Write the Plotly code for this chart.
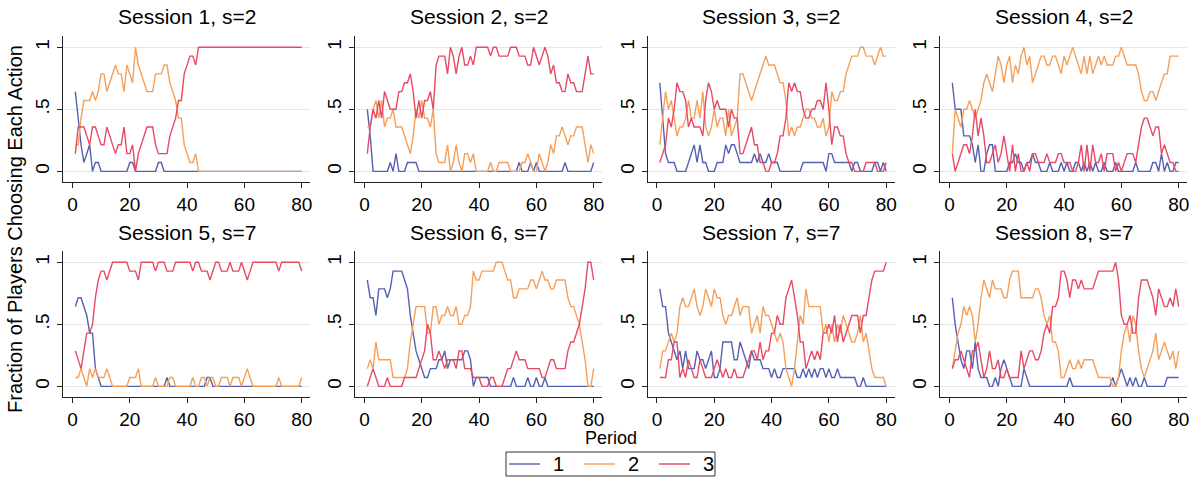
import plotly.graph_objects as go

# ---------------- data (number of the 14 players choosing each action) ----------------
N_PLAYERS = 14
periods = list(range(1, 81))
session_titles = ["Session 1, s=2", "Session 2, s=2", "Session 3, s=2", "Session 4, s=2",
                  "Session 5, s=7", "Session 6, s=7", "Session 7, s=7", "Session 8, s=7"]
action_names = ["1", "2", "3"]
x_ticks = [0, 20, 40, 60, 80]
y_ticks = [0, 0.5, 1]
y_ticklabels = ["0", ".5", "1"]

s1_a1 = [9,6,3,1,2,3,0,1,1,0, 0,0,0,0,0,0,0,0,0,1, 1,0,0,0,0,0,0,0,0,1, 1,0,0,0,0,0,0,0,0,0,
         0,0,0,0,0,0,0,0,0,0, 0,0,0,0,0,0,0,0,0,0, 0,0,0,0,0,0,0,0,0,0, 0,0,0,0,0,0,0,0,0,0]
s1_a2 = [3,3,6,8,8,8,9,8,9,11, 11,9,10,11,12,11,11,9,12,11, 10,14,12,11,10,9,9,9,11,11, 11,12,12,10,9,8,6,6,3,2,
         1,1,2,0,0,0,0,0,0,0, 0,0,0,0,0,0,0,0,0,0, 0,0,0,0,0,0,0,0,0,0, 0,0,0,0,0,0,0,0,0,0]
s1_a3 = [2,5,5,5,4,3,5,5,4,3, 3,5,4,3,2,3,3,5,2,2, 3,0,2,3,4,5,5,5,3,2, 2,2,2,4,5,6,8,8,11,12,
         13,13,12,14,14,14,14,14,14,14, 14,14,14,14,14,14,14,14,14,14, 14,14,14,14,14,14,14,14,14,14, 14,14,14,14,14,14,14,14,14,14]

s2_a1 = [7,4,0,0,0,0,0,0,1,0, 2,0,0,0,1,1,1,1,0,0, 0,0,0,0,0,0,0,0,0,0, 0,0,0,0,0,0,0,0,0,0,
         0,0,0,0,0,0,0,0,0,0, 0,0,0,1,0,0,0,1,0,1, 0,0,0,0,0,0,0,0,0,1, 0,0,0,0,0,0,0,0,0,1]
s2_a2 = [5,5,7,8,6,8,5,6,6,7, 5,5,5,4,3,2,4,7,6,8, 6,6,5,7,2,1,1,1,3,0, 1,3,1,0,2,2,1,2,0,0,
         0,0,0,1,0,0,1,1,1,1, 0,0,0,0,1,1,2,1,0,0, 2,1,0,1,3,2,4,4,5,4, 3,4,4,5,5,5,3,1,3,2]
s2_a3 = [2,5,7,6,8,6,9,8,7,7, 7,9,9,10,10,11,9,6,8,6, 8,8,9,7,12,13,13,13,11,14, 13,11,13,14,12,12,13,12,14,14,
         14,14,14,13,14,14,13,13,13,13, 14,14,14,13,13,13,12,12,14,13, 12,13,14,13,11,12,10,10,9,9, 11,10,10,9,9,9,11,13,11,11]

s3_a1 = [10,6,2,1,1,1,0,0,0,0, 1,2,3,1,3,1,1,0,0,0, 1,1,1,3,2,3,3,2,1,1, 1,1,1,2,1,2,1,1,2,1,
         1,1,0,0,0,0,0,0,0,0, 1,1,1,1,1,1,1,1,0,2, 2,1,1,1,1,1,1,0,1,1, 0,0,0,0,0,1,1,0,1,0]
s3_a2 = [3,6,9,7,8,6,4,5,5,6, 8,6,6,8,6,9,5,4,5,7, 5,6,6,4,7,4,5,6,11,11, 10,9,8,9,10,11,12,13,12,12,
         12,11,10,10,8,4,5,4,5,5, 6,7,7,6,6,5,5,6,4,5, 9,8,8,9,9,11,12,13,13,13, 14,14,13,13,13,12,13,14,13,13]
s3_a3 = [1,2,3,6,5,7,10,9,9,8, 5,6,5,5,5,4,8,10,9,7, 8,7,7,7,5,7,6,6,2,2, 3,4,5,3,3,1,1,0,0,1,
         1,2,4,4,6,10,9,10,9,9, 7,6,6,7,7,8,8,7,10,7, 3,5,5,4,4,2,1,1,0,0, 0,0,1,1,1,1,0,0,0,1]

s4_a1 = [10,7,7,7,4,4,4,3,1,3, 0,0,2,3,3,0,0,0,0,0, 1,1,2,1,1,0,1,1,2,1, 1,0,0,0,1,0,0,0,1,0,
         1,0,0,1,1,0,1,0,1,0, 1,0,0,1,0,0,0,1,0,0, 0,0,0,0,1,0,0,0,0,0, 1,1,0,2,0,1,0,0,1,1]
s4_a2 = [2,7,6,5,7,7,8,7,6,7, 8,10,11,10,9,11,13,12,10,12, 13,10,12,11,13,14,12,13,10,11, 12,13,13,12,12,13,13,12,11,13,
         12,13,14,13,12,11,13,11,13,11, 12,13,12,13,12,12,12,13,13,14, 13,12,12,12,12,11,9,8,8,9, 9,8,9,10,11,11,13,13,13,13]
s4_a3 = [2,0,1,2,3,3,2,4,7,4, 6,4,1,1,2,3,1,2,4,2, 0,3,0,2,0,0,1,0,2,2, 1,1,1,2,1,1,1,2,2,1,
         1,1,0,0,1,3,0,3,0,3, 1,1,2,0,2,2,2,0,1,0, 1,2,2,2,1,3,5,6,6,5, 4,5,5,2,3,2,1,1,0,0]

s5_a1 = [9,10,10,9,8,6,6,2,1,0, 0,0,0,0,0,0,0,0,0,0, 0,0,0,0,0,0,0,0,0,0, 0,0,1,0,0,0,0,0,0,0,
         0,0,0,0,0,0,1,1,0,0, 0,0,0,0,0,0,0,0,0,0, 0,0,0,0,0,0,0,0,0,0, 0,0,0,0,0,0,0,0,0,0]
s5_a2 = [1,1,2,1,0,2,1,2,1,1, 1,2,1,0,0,0,0,0,0,1, 1,1,2,0,0,0,0,0,1,0, 0,0,0,1,1,0,0,0,0,0,
         0,1,0,0,1,1,0,1,1,0, 0,1,1,1,0,1,1,1,0,1, 2,1,0,0,0,0,0,0,0,0, 0,1,0,0,0,0,0,0,0,1]
s5_a3 = [4,3,2,4,6,6,7,10,12,13, 13,12,13,14,14,14,14,14,14,13, 13,13,12,14,14,14,14,14,13,14, 14,14,13,13,13,14,14,14,14,14,
         14,13,14,14,13,13,13,12,13,14, 14,13,13,13,14,13,13,13,14,13, 12,13,14,14,14,14,14,14,14,14, 14,13,14,14,14,14,14,14,14,13]

s6_a1 = [12,10,10,8,11,11,11,10,11,13, 13,13,13,12,11,8,6,4,3,2, 1,1,2,2,2,3,3,4,2,3, 3,3,3,3,4,4,3,0,1,1,
         1,1,1,0,0,0,0,0,0,0, 0,1,0,0,0,0,1,0,0,1, 0,0,1,0,0,0,0,0,0,0, 0,0,0,0,0,0,0,0,0,0]
s6_a2 = [2,3,2,5,3,3,3,3,3,1, 1,1,1,1,2,5,7,9,9,9, 9,6,6,9,9,7,8,8,9,8, 8,9,7,7,8,8,9,13,12,12,
         13,13,13,13,13,14,14,14,13,12, 12,10,10,11,11,11,11,12,12,11, 12,13,12,12,11,11,12,12,12,12, 10,9,9,8,7,5,3,0,0,2]
s6_a3 = [0,1,2,1,0,0,0,1,0,0, 0,0,0,1,1,1,1,1,2,3, 4,7,6,3,3,4,3,2,3,3, 3,2,4,4,2,2,2,1,1,1,
         0,0,0,1,1,0,0,0,1,2, 2,3,4,3,3,3,2,2,2,2, 2,1,1,2,3,3,2,2,2,2, 4,5,5,6,7,9,11,14,14,12]

s7_a1 = [11,9,9,6,5,4,3,4,2,4, 2,2,2,4,3,3,2,3,4,1, 1,2,5,5,5,5,3,3,5,4, 3,2,4,3,3,3,2,2,2,1,
         2,1,1,2,2,2,2,2,1,1, 2,1,2,1,2,1,2,2,1,2, 1,1,2,1,1,1,1,1,1,0, 0,1,0,0,0,0,0,0,0,0]
s7_a2 = [2,4,4,5,6,5,6,9,10,9, 9,10,11,9,8,9,11,10,9,11, 10,10,8,7,8,8,9,10,8,9, 9,9,6,7,8,6,9,8,8,7,
         6,5,6,5,2,1,0,2,5,8, 7,11,9,9,9,9,9,6,7,5, 7,5,7,6,8,7,6,5,5,6, 8,5,6,4,2,1,1,1,1,0]
s7_a3 = [1,1,1,3,3,5,5,1,2,1, 3,2,1,1,3,2,1,1,1,2, 3,2,1,2,1,1,2,1,1,1, 2,3,4,4,3,5,3,4,4,6,
         6,8,7,7,10,11,12,10,8,5, 5,2,3,4,3,4,3,6,6,7, 6,8,5,7,5,6,7,8,8,8, 6,8,8,10,12,13,13,13,13,14]

s8_a1 = [10,7,5,3,2,4,4,2,5,2, 1,1,1,0,0,1,0,2,3,2, 1,0,0,0,0,2,1,0,0,0, 0,0,0,0,0,0,0,0,0,0,
         0,1,0,0,0,0,0,0,0,0, 0,0,0,0,0,0,1,0,1,2, 1,0,1,0,1,0,0,1,0,0, 0,0,0,0,0,1,1,1,1,1]
s8_a2 = [2,4,6,7,9,8,9,8,5,7, 10,12,11,10,12,11,11,11,10,10, 12,13,13,13,10,10,10,10,10,11, 11,10,8,7,8,5,5,4,1,1,
         2,3,2,2,3,2,3,3,3,3, 2,1,1,1,1,1,0,0,1,4, 6,7,5,8,7,4,2,1,2,3, 4,6,3,4,5,4,3,4,2,4]
s8_a3 = [2,3,3,4,3,2,1,4,4,5, 3,1,2,4,2,2,3,1,1,2, 1,1,1,1,4,2,3,4,4,3, 3,4,6,7,6,9,9,10,13,13,
         12,10,12,12,11,12,11,11,11,11, 12,13,13,13,13,13,13,14,12,8, 7,7,8,6,6,10,12,12,12,11, 10,8,11,10,9,9,10,9,11,9]

sessions = [
    (s1_a1, s1_a2, s1_a3), (s2_a1, s2_a2, s2_a3), (s3_a1, s3_a2, s3_a3), (s4_a1, s4_a2, s4_a3),
    (s5_a1, s5_a2, s5_a3), (s6_a1, s6_a2, s6_a3), (s7_a1, s7_a2, s7_a3), (s8_a1, s8_a2, s8_a3),
]

# ---------------- style ----------------
colors = ["#5561b3", "#f5a05a", "#e84a64"]
FONT = "Liberation Sans, Arial, Helvetica, sans-serif"
W, H = 1196, 477
col_left = [63, 355, 647.5, 940]
panel_w = 247
row_top = [36, 251]
panel_h = 146
LINE_W = 1.4

fig = go.Figure()
layout = dict(
    width=W, height=H, margin=dict(l=0, r=0, t=0, b=0, autoexpand=False),
    paper_bgcolor="white", plot_bgcolor="white",
    font=dict(family=FONT, color="black"),
    showlegend=False,
)
annotations = []
shapes = []

for k, (title, series) in enumerate(zip(session_titles, sessions)):
    r, c = divmod(k, 4)
    idx = k + 1
    xname = "x" if idx == 1 else f"x{idx}"
    yname = "y" if idx == 1 else f"y{idx}"
    for j, counts in enumerate(series):
        fig.add_trace(go.Scatter(
            x=periods, y=[v / N_PLAYERS for v in counts], mode="lines",
            line=dict(color=colors[j], width=LINE_W),
            name=action_names[j], legendgroup=action_names[j],
            xaxis=xname, yaxis=yname, hoverinfo="skip"))
    l = col_left[c]
    t = row_top[r]
    xkey = "xaxis" if idx == 1 else f"xaxis{idx}"
    ykey = "yaxis" if idx == 1 else f"yaxis{idx}"
    layout[xkey] = dict(
        domain=[l / W, (l + panel_w) / W], anchor=yname, range=[-3.3, 82.9],
        tickvals=x_ticks, showgrid=False, zeroline=False, automargin=False,
        showline=True, linecolor="#222222", linewidth=1,
        ticks="outside", ticklen=5, tickcolor="#222222",
        tickfont=dict(size=19, family=FONT, color="black"))
    layout[ykey] = dict(
        domain=[1 - (t + panel_h) / H, 1 - t / H], anchor=xname, range=[-0.086, 1.091],
        tickvals=y_ticks, ticktext=y_ticklabels, tickangle=-90, automargin=False,
        showgrid=True, gridcolor="#e6e6e6", gridwidth=1, zeroline=False,
        showline=True, linecolor="#222222", linewidth=1,
        ticks="outside", ticklen=5, tickcolor="#222222",
        tickfont=dict(size=19, family=FONT, color="black"))
    annotations.append(dict(
        text=title, x=(l + panel_w / 2) / W, y=1 - (17 if r == 0 else 232) / H,
        xref="paper", yref="paper", xanchor="center", yanchor="middle",
        showarrow=False, font=dict(size=21, family=FONT, color="black")))

annotations.append(dict(
    text="Fraction of Players Choosing Each Action", x=15 / W, y=1 - 229 / H,
    xref="paper", yref="paper", xanchor="center", yanchor="middle", textangle=-90,
    showarrow=False, font=dict(size=20, family=FONT, color="black")))
annotations.append(dict(
    text="Period", x=611 / W, y=1 - 438 / H, xref="paper", yref="paper",
    xanchor="center", yanchor="middle", showarrow=False,
    font=dict(size=18, family=FONT, color="black")))

# ---------------- legend (boxed, one row, below the panels) ----------------
LEG_BOX = (506, 452, 715, 476)          # left, top, right, bottom in pixels
LEG_ITEM_X = [509, 584, 659]             # start of each key line
LEG_KEY_LEN = 31
LEG_Y = 464
shapes.append(dict(type="rect", xref="paper", yref="paper",
                   x0=LEG_BOX[0] / W, x1=LEG_BOX[2] / W,
                   y0=1 - LEG_BOX[3] / H, y1=1 - LEG_BOX[1] / H,
                   line=dict(color="#333333", width=1), fillcolor="white", layer="above"))
for j, name in enumerate(action_names):
    x0 = LEG_ITEM_X[j]
    shapes.append(dict(type="line", xref="paper", yref="paper",
                       x0=x0 / W, x1=(x0 + LEG_KEY_LEN) / W,
                       y0=1 - LEG_Y / H, y1=1 - LEG_Y / H,
                       line=dict(color=colors[j], width=LINE_W), layer="above"))
    annotations.append(dict(
        text=name, x=(x0 + LEG_KEY_LEN + 11) / W, y=1 - LEG_Y / H,
        xref="paper", yref="paper", xanchor="left", yanchor="middle",
        showarrow=False, font=dict(size=20, family=FONT, color="black")))

layout["annotations"] = annotations
layout["shapes"] = shapes

fig.update_layout(**layout)
fig.write_html("out.html")
